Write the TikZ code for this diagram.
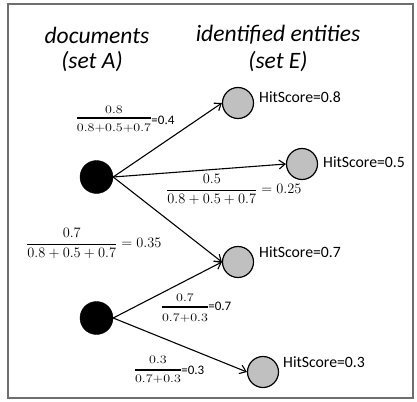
\documentclass[tikz,border=0pt]{standalone}
\usepackage{amsmath}
\usepackage{graphicx}
\usepackage{fontspec}
\newfontfamily\calfont{Carlito}
\usetikzlibrary{arrows.meta}

% wide-set numerals for the small weight fractions
\newcommand\widenum[1]{\scalebox{1.22}[1]{#1}}
% fraction label set as a full display formula
\newcommand\bigratio[3]{$\genfrac{}{}{0.8pt}{0}{#1}{#2}=#3$}

\tikzset{
  doc/.style={circle, fill=black, draw=black, minimum size=33pt, inner sep=0pt},
  ent/.style={circle, fill={rgb,255:red,192;green,192;blue,192}, draw=black, line width=1.2pt, minimum size=31pt, inner sep=0pt},
  link/.style={line width=1.1pt, -{Straight Barb[length=6pt,width=9pt]}},
  head/.style={font=\calfont\itshape\fontsize{23.5}{24}\selectfont},
  score/.style={font=\calfont\fontsize{15.75}{16}\selectfont, anchor=west, inner sep=0pt},
  num/.style={font=\fontsize{11.5}{12}\selectfont, inner sep=0pt},
  fbar/.style={line width=1.6pt},
  res/.style={font=\calfont\fontsize{13}{13}\selectfont, anchor=west, inner sep=0pt},
  bratio/.style={font=\fontsize{14.4}{17}\selectfont, anchor=base west, inner sep=0pt}
}

\begin{document}
\begin{tikzpicture}[x=1pt, y=-1pt]
\useasboundingbox (0,0) rectangle (417,401);
\draw[draw={rgb,255:red,110;green,110;blue,110}, line width=1.5pt] (8,4) rectangle (413,398);

% column headings
\node[head] (hA1) at (97,35) {documents};
\node[head] (hA2) at (92,62) {(set A)};
\node[head] (hE1) at (278,35) {identified entities};
\node[head] (hE2) at (278,62) {(set E)};

% documents
\node[doc] (d1) at (96.5,177) {};
\node[doc] (d2) at (96.5,318) {};

% entities
\node[ent] (e1) at (238,103) {};
\node[ent] (e2) at (302,164) {};
\node[ent] (e3) at (238,262) {};
\node[ent] (e4) at (263,372) {};

% hit scores
\node[score] (s1) at (259,97) {HitScore=0.8};
\node[score] (s2) at (323,162) {HitScore=0.5};
\node[score] (s3) at (259,252) {HitScore=0.7};
\node[score] (s4) at (283,362) {HitScore=0.3};

% links: each leaves the document on its right and enters the entity on its left
\draw[link] (d1.east) -- (e1.west);
\draw[link] (d1.east) -- (e2.west);
\draw[link] (d1.east) -- (e3.west);
\draw[link] (d2.east) -- (e3.west);
\draw[link] (d2.east) -- (e4.west);

% weight 0.8/(0.8+0.5+0.7)
\node[num] (n1) at (114,110) {\widenum{0.8}};
\node[num] (m1) at (114,128) {\widenum{0.8+0.5+0.7}};
\draw[fbar] ([yshift=10pt]m1.west) -- ([yshift=10pt]m1.east);
\node[res] (r1) at ([yshift=8pt]m1.east) {=0.4};

% weight 0.7/(0.7+0.3) of the second document
\node[num] (n4) at (185,298) {\widenum{0.7}};
\node[num] (m4) at (185,318) {\widenum{0.7+0.3}};
\draw[fbar] ([yshift=11pt]m4.west) -- ([yshift=11pt]m4.east);
\node[res] (r4) at ([yshift=12pt]m4.east) {=0.7};

% weight 0.3/(0.7+0.3)
\node[num] (n5) at (158,360) {\widenum{0.3}};
\node[num] (m5) at (158,379) {\widenum{0.7+0.3}};
\draw[fbar] ([yshift=9pt]m5.west) -- ([yshift=9pt]m5.east);
\node[res] (r5) at ([yshift=8.5pt]m5.east) {=0.3};

% weights set as display fractions
\node[bratio] (w2) at (166,193.5) {\bigratio{0.5}{0.8+0.5+0.7}{0.25}};
\node[bratio] (w3) at (26,247.5) {\bigratio{0.7}{0.8+0.5+0.7}{0.35}};
\end{tikzpicture}
\end{document}
